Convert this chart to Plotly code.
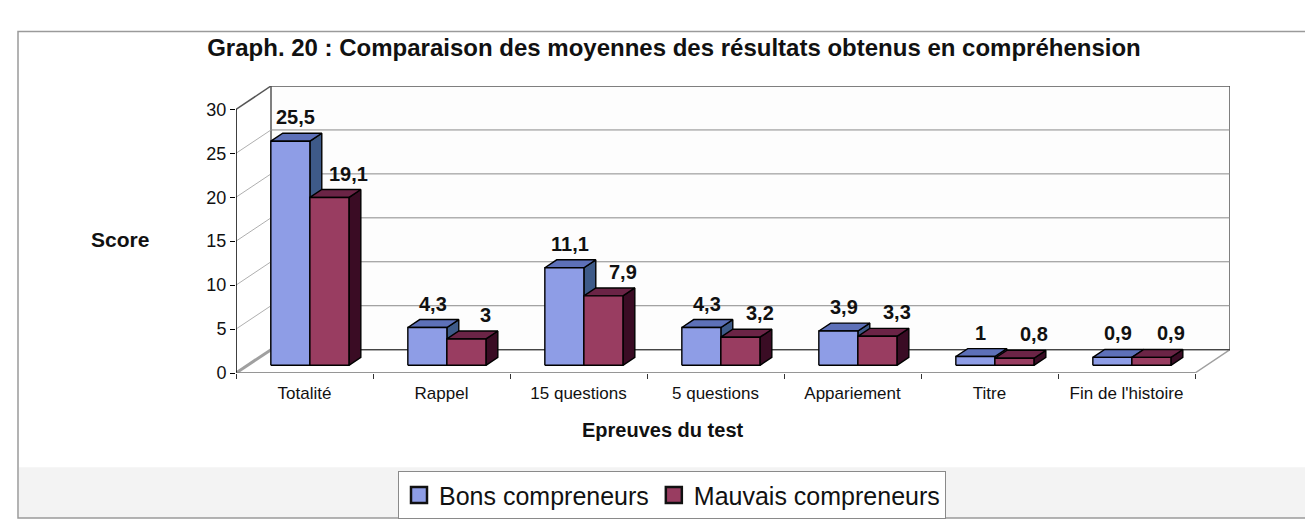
import plotly.graph_objects as go

# ---------------- data ----------------
categories = ["Totalité", "Rappel", "15 questions", "5 questions",
              "Appariement", "Titre", "Fin de l'histoire"]
bons = [25.5, 4.3, 11.1, 4.3, 3.9, 1, 0.9]
mauvais = [19.1, 3, 7.9, 3.2, 3.3, 0.8, 0.9]
series_names = ["Bons compreneurs", "Mauvais compreneurs"]
value_labels_bons = ["25,5", "4,3", "11,1", "4,3", "3,9", "1", "0,9"]
value_labels_mauvais = ["19,1", "3", "7,9", "3,2", "3,3", "0,8", "0,9"]
y_ticks = [0, 5, 10, 15, 20, 25, 30]

# ---------------- style / geometry ----------------
FONT = "Liberation Sans, Arial, sans-serif"
W_PX, H_PX = 1313, 523
DX, DY = 0.2555, 2.655          # depth vector (x units, y units)
D0, D1 = 0.33, 0.67             # bar depth slice
BW = 0.285                      # bar width
LEFT0 = 0.17                    # offset of first bar inside category
YMAX = 30
n = len(categories)
x_lo, x_hi = -0.5, n - 0.5 + DX
y_lo, y_hi = 0, YMAX + DY

front_cols = ["#8e9de6", "#993d61"]
top_cols = ["#5d70b8", "#6b2446"]
side_cols = ["#3e5a88", "#3a0c24"]

fig = go.Figure()


def poly(xs, ys, fill, line="#000000", lw=1.4):
    fig.add_trace(go.Scatter(
        x=list(xs) + [xs[0]], y=list(ys) + [ys[0]], mode="lines",
        fill="toself", fillcolor=fill, line=dict(color=line, width=lw),
        showlegend=False, hoverinfo="skip"))


def segs(pairs, color, width):
    xs, ys = [], []
    for (xa, ya), (xb, yb) in pairs:
        xs += [xa, xb, None]
        ys += [ya, yb, None]
    fig.add_trace(go.Scatter(x=xs, y=ys, mode="lines",
                             line=dict(color=color, width=width),
                             showlegend=False, hoverinfo="skip"))


# back wall
poly([x_lo + DX, n - 0.5 + DX, n - 0.5 + DX, x_lo + DX],
     [DY, DY, YMAX + DY, YMAX + DY], "#fdfdfd", line="#555555", lw=1.5)
# back-wall gridlines
segs([((x_lo + DX, v + DY), (n - 0.5 + DX, v + DY)) for v in y_ticks[1:-1]],
     "#8a8a8a", 1)
# left-wall slanted lines
segs([((x_lo, v), (x_lo + DX, v + DY)) for v in y_ticks[1:-1]], "#9a9a9a", 0.8)
segs([((x_lo, YMAX), (x_lo + DX, YMAX + DY))], "#555555", 1.5)
# floor
poly([x_lo, n - 0.5, n - 0.5 + DX, x_lo + DX], [0, 0, DY, DY], "#ffffff",
     line="#a0a0a0", lw=1.5)
segs([((x_lo + DX, DY), (n - 0.5 + DX, DY))], "#444444", 1.2)
segs([((x_lo, 0), (x_lo + DX, DY))], "#a0a0a0", 3)
# front y axis line
segs([((x_lo, 0), (x_lo, YMAX))], "#000000", 1.5)
segs([((x_lo, 0), (n - 0.5, 0))], "#777777", 1.2)

# bars (painter's order)
annos = []
for i in range(n):
    for s, vals in enumerate([bons, mauvais]):
        v = vals[i]
        xl = i - 0.5 + LEFT0 + s * BW
        xr = xl + BW
        # side face
        poly([xr + D0 * DX, xr + D1 * DX, xr + D1 * DX, xr + D0 * DX],
             [D0 * DY, D1 * DY, v + D1 * DY, v + D0 * DY], side_cols[s])
        # top face
        poly([xl + D0 * DX, xr + D0 * DX, xr + D1 * DX, xl + D1 * DX],
             [v + D0 * DY, v + D0 * DY, v + D1 * DY, v + D1 * DY], top_cols[s])
        # front face
        poly([xl + D0 * DX, xr + D0 * DX, xr + D0 * DX, xl + D0 * DX],
             [D0 * DY, D0 * DY, v + D0 * DY, v + D0 * DY], front_cols[s])
        lab = (value_labels_bons if s == 0 else value_labels_mauvais)[i]
        annos.append(dict(
            x=(xl + xr) / 2 + D0 * DX + (0.04 if s == 0 else 0.14),
            y=v + D1 * DY, xref="x", yref="y", text=f"<b>{lab}</b>",
            showarrow=False, yanchor="bottom", yshift=3,
            font=dict(family=FONT, size=20, color="#111111")))

# legend entries
for s in range(2):
    fig.add_trace(go.Scatter(
        x=[None], y=[None], mode="markers", name=series_names[s],
        marker=dict(symbol="square", size=16, color=front_cols[s],
                    line=dict(color="#111111", width=2.5))))

# x tick marks at category boundaries (overlay axis)
fig.add_trace(go.Scatter(x=[None], y=[None], xaxis="x2", showlegend=False,
                         hoverinfo="skip"))

plot_w = W_PX - 228 - 91
plot_h = 373 - 78


def px_x(p):
    return (p - 228) / plot_w


def px_y(p):
    return (373 - p) / plot_h


annos += [
    dict(x=px_x(112), y=px_y(236), xref="paper", yref="paper",
         xanchor="center", yanchor="middle",
         text="<b>Score</b>", showarrow=False,
         font=dict(family=FONT, size=21, color="#111111")),
    dict(x=px_x(655), y=px_y(432), xref="paper", yref="paper",
         xanchor="center", yanchor="middle",
         text="<b>Epreuves du test</b>", showarrow=False,
         font=dict(family=FONT, size=20, color="#111111")),
]

shapes = [
    dict(type="rect", xref="paper", yref="paper", layer="below",
         x0=px_x(11), x1=px_x(1313), y0=px_y(522), y1=px_y(470),
         fillcolor="#f3f3f3", line=dict(width=0)),
    dict(type="rect", xref="paper", yref="paper", layer="below",
         x0=px_x(10), x1=px_x(1330), y0=px_y(522), y1=px_y(22),
         fillcolor="rgba(0,0,0,0)", line=dict(color="#9a9a9a", width=1.5)),
]

fig.update_layout(
    width=W_PX, height=H_PX,
    margin=dict(l=228, r=91, t=78, b=150),
    paper_bgcolor="#ffffff", plot_bgcolor="rgba(0,0,0,0)",
    title=dict(text="<b>Graph. 20 : Comparaison des moyennes des résultats obtenus en compréhension</b>",
               x=666 / W_PX, xanchor="center",
               y=1 - 40 / H_PX, yanchor="middle",
               font=dict(family=FONT, size=24, color="#111111")),
    xaxis=dict(range=[x_lo, x_hi], tickvals=list(range(n)), ticktext=categories,
               showgrid=False, zeroline=False, showline=False,
               ticks="outside", ticklen=5, tickcolor="rgba(0,0,0,0)",
               tickfont=dict(family=FONT, size=17, color="#111111"),
               fixedrange=True),
    xaxis2=dict(range=[x_lo, x_hi], overlaying="x", anchor="y", side="bottom",
                tickvals=[k - 0.5 for k in range(n + 1)], showticklabels=False,
                ticks="outside", ticklen=5, tickcolor="#333333",
                showgrid=False, zeroline=False, showline=False),
    yaxis=dict(range=[y_lo, y_hi], tickvals=y_ticks,
               ticktext=[str(t) for t in y_ticks],
               showgrid=False, zeroline=False, showline=False,
               ticks="outside", ticklen=5, tickcolor="#000000",
               tickfont=dict(family=FONT, size=18, color="#111111"),
               fixedrange=True),
    legend=dict(orientation="h", x=px_x(664), xanchor="center",
                y=px_y(474), yanchor="top",
                bordercolor="#8a8a8a", borderwidth=1, bgcolor="#ffffff",
                font=dict(family=FONT, size=25, color="#111111"),
                itemwidth=30, tracegroupgap=0),
    annotations=annos, shapes=shapes, hovermode=False, showlegend=True,
)

fig.write_html("out.html")
